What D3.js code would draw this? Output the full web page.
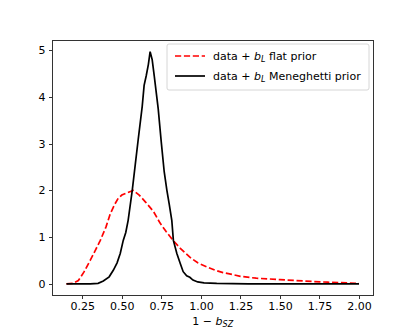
<!DOCTYPE html>
<html lang="en">
<head>
<meta charset="utf-8">
<title>Posterior of 1 - b_SZ</title>
<script src="https://cdn.jsdelivr.net/npm/d3@7"></script>
<style>
  body { margin: 0; background: #fff; }
  text { font-family: "DejaVu Sans", sans-serif; }
  .axis path, .axis line { stroke: #000; stroke-width: 0.8; shape-rendering: crispEdges; }
  .axis text { font-size: 11px; fill: #000; }
</style>
</head>
<body>
<script>
// flat prior curve (red dashed)
var flatX = [0.15, 0.19, 0.225, 0.26, 0.30, 0.33, 0.364, 0.40, 0.427, 0.455, 0.477, 0.50, 0.534, 0.572, 0.61, 0.65, 0.70, 0.742, 0.78, 0.824, 0.87, 0.93, 0.98, 1.04, 1.09, 1.14, 1.20, 1.25, 1.35, 1.50, 1.65, 1.80, 2.00];
var flatY = [0.0, 0.01, 0.07, 0.25, 0.5, 0.7, 0.93, 1.22, 1.5, 1.7, 1.83, 1.9, 1.95, 2.0, 1.9, 1.75, 1.55, 1.3, 1.12, 0.93, 0.76, 0.57, 0.45, 0.36, 0.29, 0.24, 0.2, 0.16, 0.12, 0.09, 0.06, 0.035, 0.01];

// Meneghetti prior curve (black solid)
var menX = [0.15, 0.30, 0.35, 0.383, 0.42, 0.446, 0.47, 0.490, 0.509, 0.525, 0.540, 0.566, 0.585, 0.604, 0.629, 0.641, 0.654, 0.668, 0.679, 0.692, 0.705, 0.730, 0.749, 0.768, 0.785, 0.800, 0.816, 0.826, 0.848, 0.869, 0.888, 0.91, 0.93, 0.95, 0.98, 1.02, 1.10, 1.30, 1.60, 2.00];
var menY = [0.0, 0.0, 0.01, 0.06, 0.15, 0.29, 0.45, 0.65, 0.93, 1.1, 1.36, 2.0, 2.55, 3.1, 3.8, 4.25, 4.45, 4.7, 4.97, 4.8, 4.45, 3.75, 3.05, 2.4, 2.0, 1.7, 1.36, 0.93, 0.65, 0.44, 0.26, 0.17, 0.14, 0.08, 0.04, 0.02, 0.01, 0.0, 0.0, 0.0];

var xTicks = [0.25, 0.50, 0.75, 1.00, 1.25, 1.50, 1.75, 2.00];
var yTicks = [0, 1, 2, 3, 4, 5];

var W = 415, H = 332;
var margin = {top: 40, right: 41.5, bottom: 36.5, left: 52};

var svg = d3.select("body").append("svg")
    .attr("width", W)
    .attr("height", H);

var xScale = d3.scaleLinear()
    .domain([0.0585, 2.0915])
    .range([margin.left, W - margin.right]);

var yScale = d3.scaleLinear()
    .domain([-0.25, 5.22])
    .range([H - margin.bottom, margin.top]);

var line = d3.line()
    .x(function(d) { return xScale(d[0]); })
    .y(function(d) { return yScale(d[1]); });

var flat = flatX.map(function(x, i) { return [x, flatY[i]]; });
var men = menX.map(function(x, i) { return [x, menY[i]]; });

svg.append("path")
    .datum(flat)
    .attr("d", line)
    .attr("fill", "none")
    .attr("stroke", "#ff0000")
    .attr("stroke-width", 1.7)
    .attr("stroke-dasharray", "6.2,2.7");

svg.append("path")
    .datum(men)
    .attr("d", line)
    .attr("fill", "none")
    .attr("stroke", "#000")
    .attr("stroke-width", 1.7);

// axes
svg.append("g")
    .attr("class", "axis")
    .attr("transform", "translate(0," + (H - margin.bottom) + ")")
    .call(d3.axisBottom(xScale).tickValues(xTicks).tickFormat(d3.format(".2f")).tickSizeOuter(0).tickSize(3.5).tickPadding(3));

svg.append("g")
    .attr("class", "axis")
    .attr("transform", "translate(" + margin.left + ",0)")
    .call(d3.axisLeft(yScale).tickValues(yTicks).tickFormat(d3.format("d")).tickSizeOuter(0).tickSize(3.5).tickPadding(3));

svg.selectAll(".axis .domain").remove();

// frame
svg.append("rect")
    .attr("x", margin.left)
    .attr("y", margin.top)
    .attr("width", W - margin.left - margin.right)
    .attr("height", H - margin.top - margin.bottom)
    .attr("fill", "none")
    .attr("stroke", "#000")
    .attr("stroke-width", 0.8)
    .attr("shape-rendering", "crispEdges");

// x label
var xl = svg.append("text")
    .attr("x", (margin.left + W - margin.right) / 2)
    .attr("y", 325)
    .attr("text-anchor", "middle")
    .attr("font-size", 11);
xl.append("tspan").text("1 \u2212 ");
xl.append("tspan").attr("font-style", "italic").text("b");
xl.append("tspan").attr("font-style", "italic").attr("font-size", 8).attr("dy", 2).text("SZ");

// legend
var legend = svg.append("g").attr("transform", "translate(167,44)");
legend.append("rect")
    .attr("width", 202)
    .attr("height", 46)
    .attr("rx", 2)
    .attr("fill", "#fff")
    .attr("fill-opacity", 0.8)
    .attr("stroke", "#cccccc")
    .attr("stroke-width", 0.8);

var entries = [
  {label: " flat prior", color: "#ff0000", dash: "6.2,2.7"},
  {label: " Meneghetti prior", color: "#000", dash: null}
];

entries.forEach(function(e, i) {
  var y = 12 + i * 20;
  legend.append("line")
      .attr("x1", 8).attr("x2", 38)
      .attr("y1", y).attr("y2", y)
      .attr("stroke", e.color)
      .attr("stroke-width", 1.7)
      .attr("stroke-dasharray", e.dash);
  var t = legend.append("text")
      .attr("x", 46)
      .attr("y", y + 4)
      .attr("font-size", 11);
  t.append("tspan").text("data + ");
  t.append("tspan").attr("font-style", "italic").text("b");
  t.append("tspan").attr("font-style", "italic").attr("font-size", 8).attr("dy", 2).text("L");
  t.append("tspan").attr("dy", -2).text(e.label);
});
</script>
</body>
</html>
